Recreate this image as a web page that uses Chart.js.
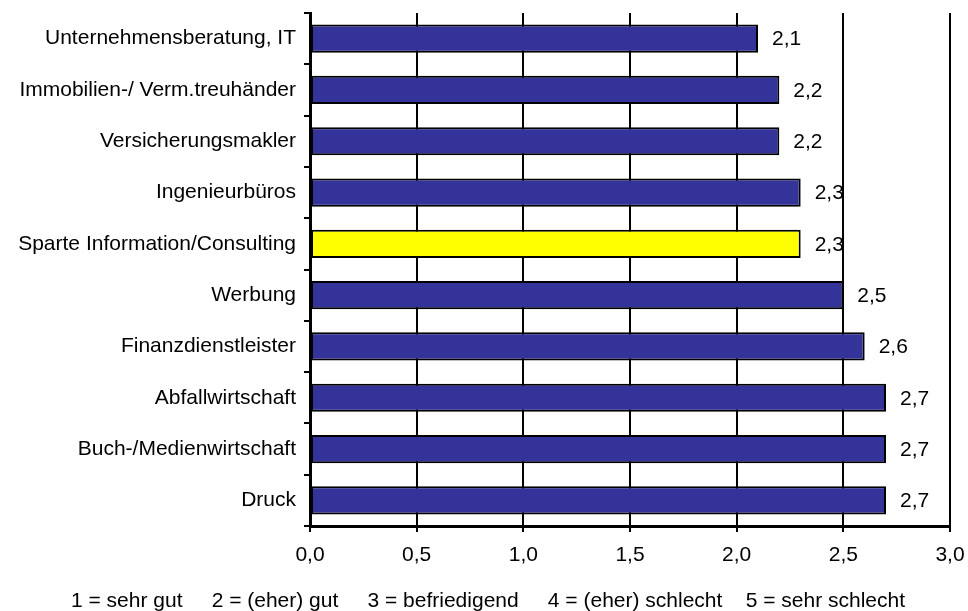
<!DOCTYPE html>
<html>
<head>
<meta charset="utf-8">
<script src="https://cdn.jsdelivr.net/npm/chart.js@4/dist/chart.umd.min.js"></script>
<style>
  html, body { margin: 0; padding: 0; background: #fff; }
  #wrap { width: 968px; height: 611px; }
</style>
</head>
<body>
<div id="wrap"><canvas id="c" width="968" height="611"></canvas></div>
<script>
// Branchen und Durchschnittsnoten
const categories = [
  "Unternehmensberatung, IT",
  "Immobilien-/ Verm.treuhänder",
  "Versicherungsmakler",
  "Ingenieurbüros",
  "Sparte Information/Consulting",
  "Werbung",
  "Finanzdienstleister",
  "Abfallwirtschaft",
  "Buch-/Medienwirtschaft",
  "Druck"
];
const values = [2.1, 2.2, 2.2, 2.3, 2.3, 2.5, 2.6, 2.7, 2.7, 2.7];
const highlighted = "Sparte Information/Consulting";
const xTicks = [0, 0.5, 1.0, 1.5, 2.0, 2.5, 3.0];
const footerText = "1 = sehr gut     2 = (eher) gut     3 = befriedigend     4 = (eher) schlecht    5 = sehr schlecht";

const FONT = "Arial, 'Liberation Sans', sans-serif";
const fmt = v => Number(v).toFixed(1).replace('.', ',');

const barColors = categories.map(c => c === highlighted ? '#FFFF00' : '#333399');

// Wert rechts neben jedem Balken
const valueLabels = {
  id: 'valueLabels',
  afterDatasetsDraw(chart) {
    const ctx = chart.ctx;
    const meta = chart.getDatasetMeta(0);
    ctx.save();
    ctx.font = "21px " + FONT;
    ctx.fillStyle = '#000';
    ctx.textAlign = 'left';
    ctx.textBaseline = 'middle';
    meta.data.forEach((bar, i) => {
      ctx.fillText(fmt(values[i]), bar.x + 14, bar.y + 1);
    });
    ctx.restore();
  }
};

// Notenskala unter der Grafik
const footer = {
  id: 'footer',
  afterDraw(chart) {
    const ctx = chart.ctx;
    ctx.save();
    ctx.font = "21px " + FONT;
    ctx.fillStyle = '#000';
    ctx.textAlign = 'center';
    ctx.textBaseline = 'middle';
    ctx.fillText(footerText, 488, 601, 850);
    ctx.restore();
  }
};

new Chart(document.getElementById('c'), {
  type: 'bar',
  data: {
    labels: categories,
    datasets: [{
      data: values,
      backgroundColor: barColors,
      borderColor: '#000',
      borderWidth: 2,
      borderSkipped: false,
      categoryPercentage: 1,
      barPercentage: 0.55
    }]
  },
  options: {
    indexAxis: 'y',
    responsive: false,
    animation: false,
    events: [],
    layout: { padding: { top: 13, right: 18, left: 0, bottom: 0 } },
    plugins: {
      legend: { display: false },
      tooltip: { enabled: false },
      title: { display: false }
    },
    scales: {
      x: {
        min: 0,
        max: 3,
        afterBuildTicks: s => { s.ticks = xTicks.map(v => ({ value: v })); },
        afterFit: s => {
          s.height = 85;
          s.paddingLeft = 0;
          s.paddingRight = 0;
        },
        border: { display: true, color: '#000', width: 3 },
        grid: {
          display: true,
          drawOnChartArea: true,
          drawTicks: true,
          color: '#000',
          lineWidth: 2,
          tickLength: 6
        },
        ticks: {
          font: { size: 21, family: FONT },
          color: '#000',
          padding: 11,
          maxRotation: 0,
          callback: v => fmt(v)
        }
      },
      y: {
        afterFit: s => {
          s.width = 310;
          s.paddingTop = 0;
          s.paddingBottom = 0;
        },
        border: { display: true, color: '#000', width: 3 },
        grid: {
          display: true,
          offset: true,
          drawOnChartArea: false,
          drawTicks: true,
          color: '#000',
          lineWidth: 2,
          tickLength: 6
        },
        ticks: {
          font: { size: 21, family: FONT },
          color: '#000',
          padding: 8
        }
      }
    }
  },
  plugins: [valueLabels, footer]
});
</script>
</body>
</html>
